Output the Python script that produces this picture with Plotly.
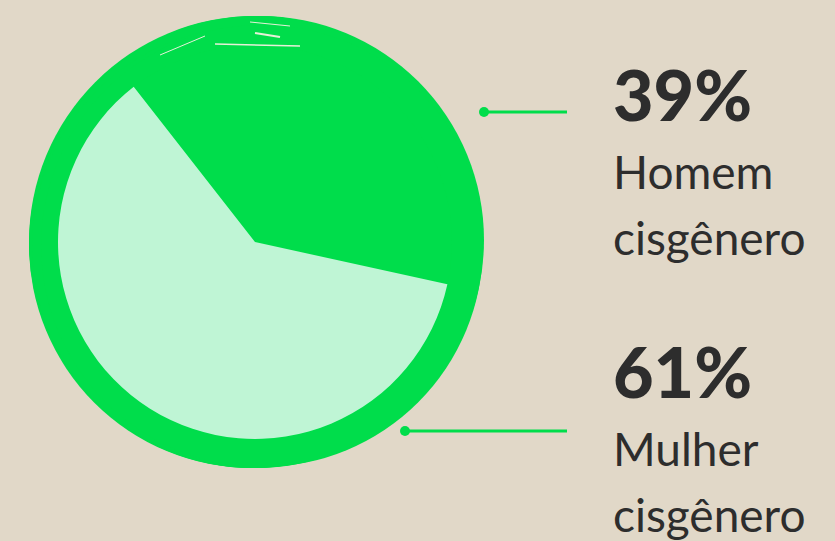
import plotly.graph_objects as go

# ---- data ----
labels = ["Homem cisgênero", "Mulher cisgênero"]
values = [39, 61]
label_line1 = ["Homem", "Mulher"]
label_line2 = ["cisgênero", "cisgênero"]

W, H = 835, 541
BG = "#E1D8C8"
DARK = "#00DD4B"
LIGHT = "#BFF5D5"
TXT = "#2D2D2D"

def px(x):
    return x / W

def py(y):
    return 1 - y / H

# pie geometry (pixels)
cx, cy = 255, 242
r_in = 197
R_out = 226

fig = go.Figure()
fig.add_trace(go.Pie(
    labels=labels, values=values, sort=False, direction="clockwise",
    rotation=322,
    marker=dict(colors=[DARK, LIGHT], line=dict(width=0)),
    textinfo="none", hoverinfo="label+percent", showlegend=False,
    domain=dict(x=[px(cx - r_in), px(cx + r_in)], y=[py(cy + r_in), py(cy - r_in)]),
))

shapes = []
# brush ring (decorative), several offset discs for an uneven edge
for (ox, oy, rr) in [(0, 0, R_out), (-3, 3, 223), (5, -2, 224), (1, -4, 222), (-2, 5, 221), (7, 4, 221)]:
    shapes.append(dict(type="circle", xref="paper", yref="paper", layer="below",
                       x0=px(cx + ox - rr), x1=px(cx + ox + rr),
                       y0=py(cy + oy + rr), y1=py(cy + oy - rr),
                       fillcolor=DARK, line=dict(width=0)))
# thin brush gaps near top
for (x0, y0, x1, y1, w) in [(215, 44, 300, 46, 1.5), (255, 33, 280, 37, 2), (160, 55, 205, 36, 1), (250, 22, 290, 26, 1)]:
    shapes.append(dict(type="line", xref="paper", yref="paper", layer="above",
                       x0=px(x0), y0=py(y0), x1=px(x1), y1=py(y1),
                       line=dict(color="#E6F0D8", width=w)))

# leader lines with dots
leaders = [(484, 112, 567), (405, 431, 567)]
for (lx0, ly, lx1) in leaders:
    shapes.append(dict(type="line", xref="paper", yref="paper",
                       x0=px(lx0), y0=py(ly), x1=px(lx1), y1=py(ly),
                       line=dict(color=DARK, width=3)))
    shapes.append(dict(type="circle", xref="paper", yref="paper",
                       x0=px(lx0 - 5), x1=px(lx0 + 5), y0=py(ly + 5), y1=py(ly - 5),
                       fillcolor=DARK, line=dict(width=0)))

annotations = []
text_x = 611
blocks = [94, 371]  # center y of the percentage text
for i, v in enumerate(values):
    yc = blocks[i]
    annotations.append(dict(text=f"{v}%", x=px(text_x), y=py(yc), xref="paper", yref="paper",
                            xanchor="left", yanchor="middle", showarrow=False,
                            font=dict(family="Lato", size=70, color=TXT, weight=900)))
    annotations.append(dict(text=label_line1[i], x=px(text_x), y=py(yc + 77), xref="paper", yref="paper",
                            xanchor="left", yanchor="middle", showarrow=False,
                            font=dict(family="Lato", size=46, color=TXT)))
    annotations.append(dict(text=label_line2[i], x=px(text_x), y=py(yc + 143), xref="paper", yref="paper",
                            xanchor="left", yanchor="middle", showarrow=False,
                            font=dict(family="Lato", size=46, color=TXT)))

fig.update_layout(
    width=W, height=H, margin=dict(l=0, r=0, t=0, b=0),
    paper_bgcolor=BG, plot_bgcolor=BG,
    shapes=shapes, annotations=annotations,
)
fig.write_html("out.html", config={"displayModeBar": False},
               post_script="document.body.style.margin='0';document.body.style.background='%s';" % BG)
